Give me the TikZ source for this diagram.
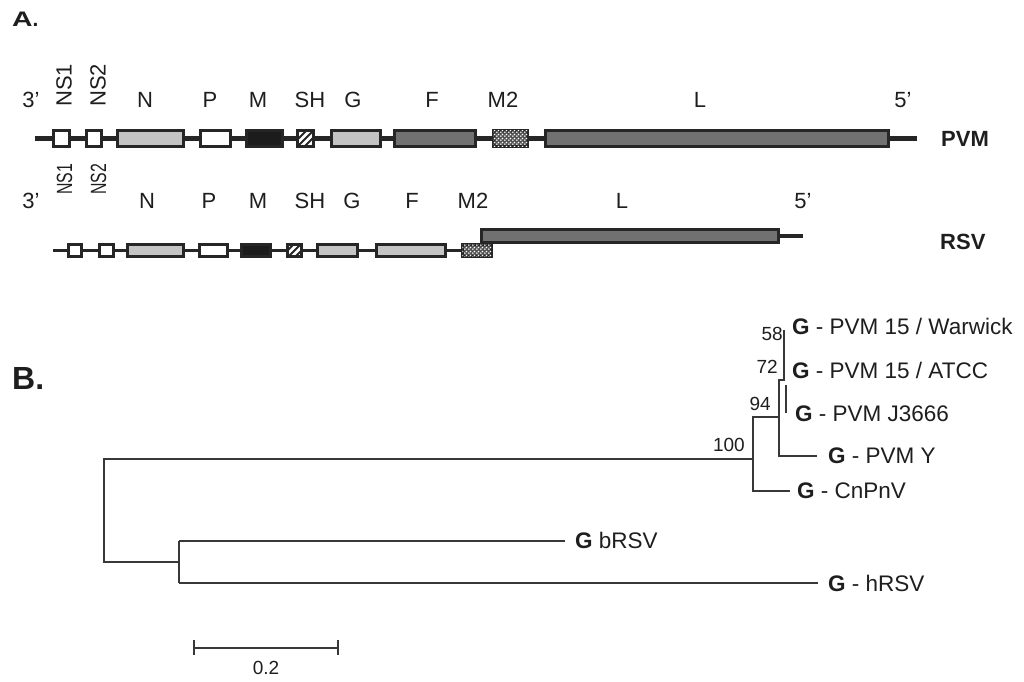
\documentclass[tikz,border=0pt]{standalone}
\usepackage{fontspec}
\setmainfont{Liberation Sans}
\usetikzlibrary{patterns,patterns.meta}
\definecolor{ink}{HTML}{1E1E1E}
\definecolor{bord}{HTML}{262626}
\definecolor{lgray}{HTML}{C4C4C4}
\definecolor{dgray}{HTML}{717171}
\definecolor{blk}{HTML}{1C1C1C}
\definecolor{treec}{HTML}{383838}
\definecolor{patc}{HTML}{505050}
\tikzdeclarepattern{
  name=mtwodots,
  type=uncolored,
  bounding box={(0pt,0pt) and (4pt,4pt)},
  tile size={(4pt,4pt)},
  code={\fill (1pt,1pt) circle (1.05pt); \fill (3pt,3pt) circle (1.05pt);}
}
\begin{document}
\begin{tikzpicture}[x=1pt,y=-1pt,
  gbox/.style={draw=bord, line width=2.9pt, inner sep=0pt, outer sep=0pt},
  pbox/.style={gbox, minimum height=16.1pt},
  rbox/.style={gbox, minimum height=12.1pt},
  whitebox/.style={fill=white},
  lightbox/.style={fill=lgray},
  darkbox/.style={fill=dgray},
  blackbox/.style={fill=blk},
  shbox/.style={fill=white, path picture={\foreach \k in {-3,...,3}{\draw[bord, line width=2pt] ([xshift=\k*7pt]path picture bounding box.center) ++(-15pt,-15pt) -- ++(30pt,30pt);}}},
  mtwobox/.style={fill=patc, postaction={pattern=mtwodots, pattern color=white}},
  glab/.style={font=\fontsize{22}{26}\selectfont, text=ink, inner sep=0pt, anchor=base},
  rlab/.style={font=\fontsize{22}{26}\selectfont, text=ink, inner sep=0pt, rotate=90, anchor=base west},
  vlab/.style={font=\bfseries\fontsize{22}{26}\selectfont, text=ink, inner sep=0pt, anchor=west},
  panel/.style={font=\bfseries\fontsize{21}{25}\selectfont, text=ink, inner sep=0pt, anchor=west},
  backbone/.style={draw=bord, line width=4.2pt},
  rbackbone/.style={draw=bord, line width=3.6pt},
  branch/.style={draw=treec, line width=2pt},
  leaf/.style={font=\fontsize{22.5}{27}\selectfont, text=ink, inner sep=0pt, anchor=west},
  num/.style={font=\fontsize{19}{23}\selectfont, text=ink, inner sep=0pt, anchor=east}
]
\fill[white] (0,0) rectangle (1024,681);
\useasboundingbox (0,0) rectangle (1024,681);

% ---------- Panel labels ----------
\node[panel] (A) at (12,19.5) {\scalebox{1.35}[1]{A}.};
\node[panel, font=\bfseries\fontsize{32}{36}\selectfont] (B) at (12,378.5) {B.};

% ---------- PVM genome ----------
\coordinate (pS) at (35,138.5);
\coordinate (pE) at (917,138.5);
\draw[backbone] (pS) -- (pE);
\node[pbox, whitebox, minimum width=16.1pt] (pNSa) at (61.5,138.5) {};
\node[pbox, whitebox, minimum width=15.1pt] (pNSb) at (94,138.5) {};
\node[pbox, lightbox, minimum width=66.1pt] (pN) at (150.5,138.5) {};
\node[pbox, whitebox, minimum width=30.1pt] (pP) at (215.5,138.5) {};
\node[pbox, blackbox, minimum width=36.1pt] (pM) at (264.5,138.5) {};
\node[pbox, shbox, minimum width=16.1pt] (pSH) at (305.5,138.5) {};
\node[pbox, lightbox, minimum width=49.1pt] (pG) at (356,138.5) {};
\node[pbox, darkbox, minimum width=81.1pt] (pF) at (435,138.5) {};
\node[pbox, mtwobox, minimum width=34.1pt] (pM2) at (510.5,138.5) {};
\node[pbox, darkbox, minimum width=343.1pt] (pL) at (717,138.5) {};
\node[vlab] (tPVM) at (941,139) {PVM};

\node[glab] (p3) at (31,107) {3’};
\node[rlab] (pNS1) at (71.5,107) {NS1};
\node[rlab] (pNS2) at (105.5,107) {NS2};
\node[glab] (lpN) at (145,107) {N};
\node[glab] (lpP) at (210,107) {P};
\node[glab] (lpM) at (258,107) {M};
\node[glab] (lpSH) at (310,107) {SH};
\node[glab] (lpG) at (353,107) {G};
\node[glab] (lpF) at (432,107) {F};
\node[glab] (lpM2) at (503,107) {M2};
\node[glab] (lpL) at (700,107) {L};
\node[glab] (p5) at (903,107) {5’};

% ---------- RSV genome ----------
\coordinate (rS) at (53,250.5);
\coordinate (rE) at (803,236);
\node[rbox, darkbox, minimum width=297.1pt, minimum height=13.1pt] (rL) at (630,236) {};
\draw[rbackbone] (rL.east) -- (rE);
\node[rbox, mtwobox, minimum width=29.1pt] (rM2) at (477,250.5) {};
\draw[rbackbone] (rS) -- (rM2.west);
\node[rbox, whitebox, minimum width=13.1pt] (rNSa) at (75,250.5) {};
\node[rbox, whitebox, minimum width=14.1pt] (rNSb) at (106.5,250.5) {};
\node[rbox, lightbox, minimum width=56.1pt] (rN) at (155.5,250.5) {};
\node[rbox, whitebox, minimum width=28.1pt] (rP) at (213.5,250.5) {};
\node[rbox, blackbox, minimum width=29.1pt] (rM) at (256,250.5) {};
\node[rbox, shbox, minimum width=14.1pt] (rSH) at (294.5,250.5) {};
\node[rbox, lightbox, minimum width=40.1pt] (rG) at (337.5,250.5) {};
\node[rbox, lightbox, minimum width=69.1pt] (rF) at (411,250.5) {};
\node[vlab] (tRSV) at (940,242) {RSV};

\node[glab] (r3) at (31,208) {3’};
\node[rlab] (rNS1) at (72,195) {\scalebox{0.72}[1]{NS1}};
\node[rlab] (rNS2) at (106,195) {\scalebox{0.72}[1]{NS2}};
\node[glab] (lrN) at (147,208) {N};
\node[glab] (lrP) at (209,208) {P};
\node[glab] (lrM) at (258,208) {M};
\node[glab] (lrSH) at (310,208) {SH};
\node[glab] (lrG) at (352,208) {G};
\node[glab] (lrF) at (412,208) {F};
\node[glab] (lrM2) at (473,208) {M2};
\node[glab] (lrL) at (622,208) {L};
\node[glab] (r5) at (803,208) {5’};

% ---------- Tree ----------
\node[leaf] (lW) at (792,326.5) {\textbf{G} - PVM 15 / Warwick};
\node[leaf] (lA) at (792,370.5) {\textbf{G} - PVM 15 / ATCC};
\node[leaf] (lJ) at (795,414) {\textbf{G} - PVM J3666};
\node[leaf] (lY) at (828,455.5) {\textbf{G} - PVM Y};
\node[leaf] (lC) at (797,490.5) {\textbf{G} - CnPnV};
\node[leaf] (lb) at (575,540.5) {\textbf{G} bRSV};
\node[leaf] (lh) at (828,583) {\textbf{G} - hRSV};

\coordinate (r0) at (104,459);
\coordinate (r1) at (104,562);
\coordinate (rs) at (179,562);
\coordinate (rsT) at (179,540.5);
\coordinate (rsB) at (179,583);
\coordinate (n100) at (753,459);
\coordinate (n100T) at (753,417);
\coordinate (n100B) at (753,490.5);
\coordinate (n94T) at (779,417);
\coordinate (n94a) at (779,380);
\coordinate (n94b) at (779,455.5);
\coordinate (n72a) at (784,380);
\coordinate (n72t) at (784,330);
\coordinate (j1) at (786,385);
\coordinate (j2) at (786,413);

\draw[branch] (n100) -- (r0) -- (r1) -- (rs);
\draw[branch] (rsT) -- (rsB);
\draw[branch] (rsT) -- ([xshift=-10pt]lb.west);
\draw[branch] (rsB) -- ([xshift=-10pt]lh.west);
\draw[branch] (n94T) -- (n100T) -- (n100B) -- ([xshift=-7pt]lC.west);
\draw[branch] (n72t) -- (n72a) -- (n94a) -- (n94b) -- ([xshift=-11pt]lY.west);
\draw[branch] (j1) -- (j2);

\node[num] (b58) at (783,333.5) {58};
\node[num] (b72) at (778,366.5) {72};
\node[num] (b94) at (771,403.5) {94};
\node[num] (b100) at (745,444.5) {100};

% ---------- Scale bar ----------
\coordinate (s0) at (194,648);
\coordinate (s1) at (338,648);
\draw[branch] (s0) -- (s1);
\draw[branch] ([yshift=8pt]s0) -- ([yshift=-7pt]s0);
\draw[branch] ([yshift=8pt]s1) -- ([yshift=-7pt]s1);
\node[num, anchor=center] (sl) at (266,667.5) {0.2};
\end{tikzpicture}
\end{document}
